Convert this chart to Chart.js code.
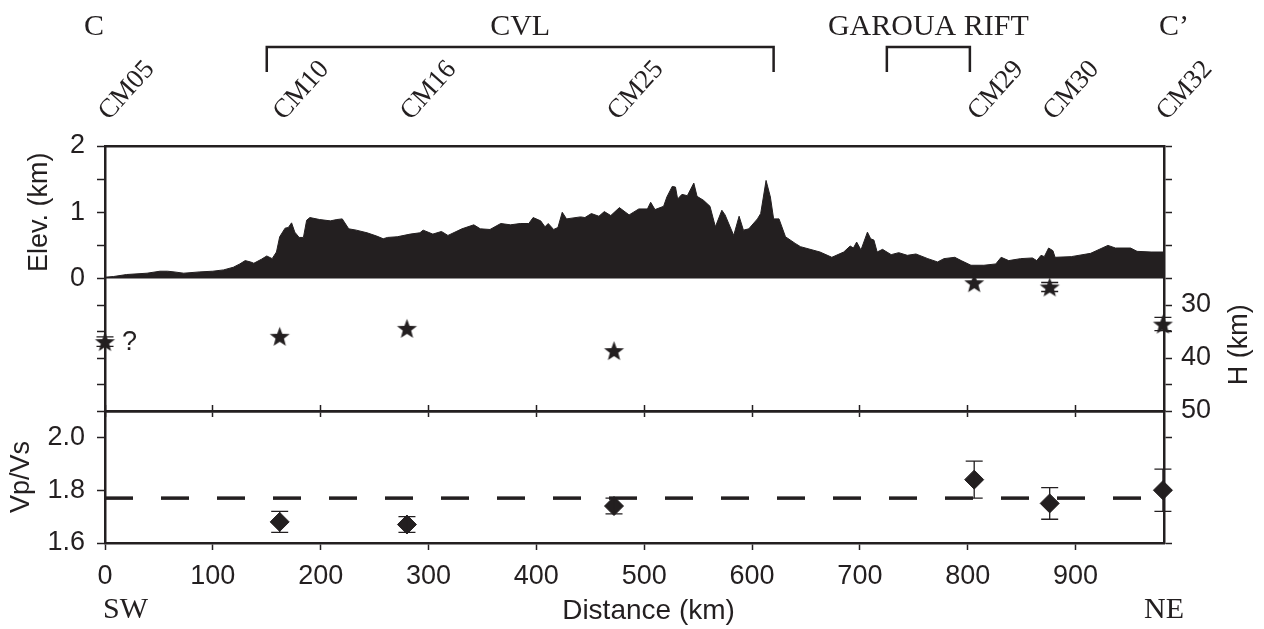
<!DOCTYPE html>
<html>
<head>
<meta charset="utf-8">
<title>Profile C-C'</title>
<script src="https://cdn.jsdelivr.net/npm/chart.js@4.4.1/dist/chart.umd.min.js"></script>
<style>
  html, body { margin: 0; padding: 0; background: #fff; }
  #wrap { position: relative; width: 1264px; height: 629px; }
  #wrap canvas { position: absolute; left: 0; top: 0; }
</style>
</head>
<body>
<div id="wrap">
  <canvas id="vpvsChart" width="1264" height="629"></canvas>
  <canvas id="topChart" width="1264" height="629"></canvas>
</div>
<script>
// ---- data ----
const stationNames = ['CM05', 'CM10', 'CM16', 'CM25', 'CM29', 'CM30', 'CM32'];
const stationKm = [0, 162, 280, 472, 806, 876, 981];
const mohoDepth = [36.9, 35.9, 34.4, 38.6, 25.8, 26.6, 33.6];   // H (km)
const mohoErr = [0.9, 0, 0, 0, 0, 0.85, 1.25];
const vpvs = [null, 1.68, 1.67, 1.74, 1.84, 1.75, 1.80];
const vpvsErr = [null, 0.04, 0.03, 0.03, 0.07, 0.06, 0.08];
const vpvsMean = 1.77;

const regionNames = ['CVL', 'GAROUA RIFT'];
const regionStart = [150, 725];
const regionEnd = [620, 802];

// elevation profile along C-C'
const profileKm = [
  0, 8, 20, 39, 51, 58, 64, 73, 88, 100,
  110, 119, 125, 130, 135, 138, 145, 150, 155, 159,
  162, 167, 170, 173, 176, 180, 184, 187, 190, 199,
  209, 215, 220, 226, 233, 243, 252, 258, 262, 271,
  283, 292, 295, 304, 312, 318, 331, 342, 348, 357,
  367, 376, 385, 393, 397, 404, 408, 411, 416, 420,
  424, 428, 441, 445, 451, 458, 463, 469, 477, 486,
  495, 503, 506, 510, 518, 521, 526, 529, 531, 535,
  540, 546, 549, 555, 561, 566, 572, 575, 583, 588,
  592, 597, 605, 608, 613, 617, 620, 625, 631, 640,
  645, 663, 674, 685, 691, 694, 697, 701, 707, 710,
  713, 716, 721, 729, 736, 744, 752, 763, 772, 778,
  788, 794, 803, 815, 826, 831, 838, 849, 860, 864,
  868, 871, 875, 879, 881, 896, 914, 930, 937, 951,
  957, 970, 982
];
const profileElev = [
  0.02, 0.03, 0.06, 0.08, 0.11, 0.11, 0.10, 0.08, 0.10, 0.11,
  0.13, 0.17, 0.22, 0.27, 0.25, 0.23, 0.29, 0.34, 0.30, 0.40,
  0.63, 0.76, 0.77, 0.84, 0.70, 0.62, 0.62, 0.88, 0.92, 0.89,
  0.87, 0.89, 0.90, 0.75, 0.73, 0.69, 0.64, 0.60, 0.62, 0.63,
  0.67, 0.69, 0.73, 0.67, 0.71, 0.65, 0.75, 0.81, 0.75, 0.74,
  0.83, 0.81, 0.83, 0.83, 0.92, 0.87, 0.78, 0.83, 0.74, 0.77,
  1.00, 0.90, 0.93, 0.92, 0.98, 0.94, 1.01, 0.95, 1.07, 0.96,
  1.05, 1.05, 1.15, 1.04, 1.09, 1.23, 1.39, 1.38, 1.20, 1.27,
  1.25, 1.44, 1.24, 1.18, 1.09, 0.78, 1.03, 0.96, 0.65, 0.94,
  0.73, 0.75, 0.90, 0.98, 1.48, 1.23, 0.90, 0.90, 0.63, 0.53,
  0.48, 0.40, 0.32, 0.40, 0.49, 0.46, 0.55, 0.43, 0.70, 0.60,
  0.58, 0.40, 0.44, 0.36, 0.39, 0.35, 0.37, 0.30, 0.25, 0.30,
  0.32, 0.27, 0.20, 0.20, 0.22, 0.32, 0.27, 0.30, 0.31, 0.27,
  0.35, 0.33, 0.46, 0.42, 0.32, 0.33, 0.38, 0.50, 0.46, 0.46,
  0.41, 0.40, 0.40
];

// axes
const distMax = 982;
const distTicks = [0, 100, 200, 300, 400, 500, 600, 700, 800, 900];
const elevMin = -2, elevMax = 2;
const elevTicks = [0, 0.5, 1, 1.5, 2];
const elevLabels = [0, 1, 2];
const depthMin = 0, depthMax = 50;
const depthTicks = [25, 30, 35, 40, 45, 50];
const depthLabels = [30, 40, 50];
const vpvsMin = 1.6, vpvsMax = 2.1;
const vpvsTicks = [1.6, 1.8, 2.0];

// ---- layout / style ----
const W = 1264, H = 629;
const PLOT_LEFT = 105, PLOT_RIGHT = 1164;
const PLOT_TOP = 146, PANEL_SPLIT = 411, PLOT_BOTTOM = 543;
const INK = '#231f20';
const SANS = '"Liberation Sans", Arial, sans-serif';
const SERIF = '"Liberation Serif", "Times New Roman", serif';

Chart.defaults.font.family = SANS;
Chart.defaults.color = INK;

const tickFont = { family: SANS, size: 27 };
const frame = { display: true, color: INK, width: 2.5 };
function tickGrid(len) {
  return { display: true, drawOnChartArea: false, drawTicks: true, tickLength: len, tickWidth: 1.5, tickColor: INK };
}
function setTicks(values) {
  const sorted = values.slice().sort((a, b) => a - b);
  return scale => { scale.ticks = sorted.map(v => ({ value: v })); };
}
function fixWidth(w) { return scale => { scale.width = w; }; }
function fixHeight(h) { return scale => { scale.height = h; }; }
const near = (a, list) => list.some(b => Math.abs(a - b) < 1e-6);

// elevation <-> depth share the top panel
function depthToElev(d) {
  return elevMax - (d - depthMin) / (depthMax - depthMin) * (elevMax - elevMin);
}
function elevToDepth(e) {
  return depthMin + (elevMax - e) / (elevMax - elevMin) * (depthMax - depthMin);
}

// filled star marker
function makeStar(r) {
  const c = document.createElement('canvas');
  const s = Math.ceil(r * 2 + 2);
  c.width = s; c.height = s;
  const g = c.getContext('2d');
  g.fillStyle = INK;
  g.beginPath();
  for (let i = 0; i < 10; i++) {
    const rad = i % 2 === 0 ? r : r * 0.42;
    const a = -Math.PI / 2 + i * Math.PI / 5;
    const px = s / 2 + rad * Math.cos(a), py = s / 2 + 1 + rad * Math.sin(a);
    if (i === 0) g.moveTo(px, py); else g.lineTo(px, py);
  }
  g.closePath();
  g.fill();
  return c;
}
const starMarker = makeStar(10.5);

// error bars drawn through the chart's scales
const errorBars = {
  id: 'errorBars',
  afterDatasetsDraw(chart, args, opts) {
    if (!opts.errors) return;
    const meta = chart.getDatasetMeta(opts.datasetIndex);
    const ds = chart.data.datasets[opts.datasetIndex];
    const yScale = chart.scales[meta.yAxisID];
    const ctx = chart.ctx;
    ctx.save();
    ctx.strokeStyle = INK;
    ctx.lineWidth = 1.3;
    meta.data.forEach((pt, i) => {
      const err = opts.errors[i];
      const val = ds.data[i] && ds.data[i].y;
      if (!err || val == null) return;
      const y0 = yScale.getPixelForValue(val - err);
      const y1 = yScale.getPixelForValue(val + err);
      const hw = opts.capWidth / 2;
      ctx.beginPath();
      ctx.moveTo(pt.x, y0); ctx.lineTo(pt.x, y1);
      ctx.moveTo(pt.x - hw, y0); ctx.lineTo(pt.x + hw, y0);
      ctx.moveTo(pt.x - hw, y1); ctx.lineTo(pt.x + hw, y1);
      ctx.stroke();
    });
    ctx.restore();
  }
};

function rotatedText(ctx, text, x, y, angle) {
  ctx.save();
  ctx.translate(x, y);
  ctx.rotate(angle);
  ctx.fillText(text, 0, 0);
  ctx.restore();
}

// header, station names, axis titles of the top panel
const topAnnotations = {
  id: 'topAnnotations',
  afterDraw(chart) {
    const { ctx, chartArea, scales } = chart;
    const x = scales.x, yH = scales.yH, yE = scales.yE;
    ctx.save();
    ctx.fillStyle = INK;
    ctx.strokeStyle = INK;
    ctx.lineWidth = 2.5;
    ctx.font = '30px ' + SERIF;
    ctx.textAlign = 'center';
    ctx.textBaseline = 'alphabetic';
    regionNames.forEach((name, i) => {
      const x0 = x.getPixelForValue(regionStart[i]);
      const x1 = x.getPixelForValue(regionEnd[i]);
      ctx.beginPath();
      ctx.moveTo(x0, 72); ctx.lineTo(x0, 47); ctx.lineTo(x1, 47); ctx.lineTo(x1, 72);
      ctx.stroke();
      ctx.fillText(name, (x0 + x1) / 2, 35);
    });
    ctx.fillText('C', chartArea.left - 11, 35);
    ctx.fillText('C\u2019', chartArea.right + 10, 35);

    ctx.font = '27px ' + SERIF;
    ctx.textAlign = 'left';
    stationNames.forEach((name, i) => {
      rotatedText(ctx, name, x.getPixelForValue(stationKm[i]) + 4, 121, -48 * Math.PI / 180);
    });

    // unknown-depth mark next to CM05
    ctx.font = '27px ' + SANS;
    ctx.textAlign = 'left';
    ctx.fillText('?', x.getPixelForValue(stationKm[0]) + 17, yH.getPixelForValue(mohoDepth[0]) + 8);

    ctx.textAlign = 'center';
    ctx.textBaseline = 'middle';
    rotatedText(ctx, 'Elev. (km)', 40, (yE.getPixelForValue(0) + yE.getPixelForValue(elevMax)) / 2, -Math.PI / 2);
    rotatedText(ctx, 'H (km)', 1240, (yH.getPixelForValue(25) + yH.getPixelForValue(depthMax)) / 2, -Math.PI / 2);
    ctx.restore();
  }
};

const bottomAnnotations = {
  id: 'bottomAnnotations',
  afterDraw(chart) {
    const { ctx, chartArea, scales } = chart;
    ctx.save();
    ctx.fillStyle = INK;
    ctx.textAlign = 'center';
    ctx.textBaseline = 'middle';
    ctx.font = '27px ' + SANS;
    rotatedText(ctx, 'Vp/Vs', 22, (chartArea.top + chartArea.bottom) / 2, -Math.PI / 2);
    ctx.textBaseline = 'alphabetic';
    ctx.font = '28px ' + SANS;
    ctx.fillText('Distance (km)', scales.x.getPixelForValue(504), 619);
    ctx.font = '30px ' + SERIF;
    ctx.textAlign = 'left';
    ctx.fillText('SW', chartArea.left - 2, 618);
    ctx.textAlign = 'center';
    ctx.fillText('NE', chartArea.right, 618);
    ctx.restore();
  }
};

const baseOptions = {
  responsive: false,
  animation: false,
  devicePixelRatio: 1,
  events: [],
  layout: { padding: 0 },
  plugins: { legend: { display: false }, tooltip: { enabled: false } }
};

// ---- top panel: elevation + Moho depth ----
const leftTopTicks = elevTicks.concat(depthTicks.slice(1).map(depthToElev));
const rightTopTicks = depthTicks.concat(elevTicks.slice(1).map(elevToDepth));

new Chart(document.getElementById('topChart'), {
  type: 'line',
  data: {
    datasets: [
      {
        type: 'scatter',
        label: 'H',
        data: stationKm.map((km, i) => ({ x: km, y: mohoDepth[i] })),
        xAxisID: 'x', yAxisID: 'yH',
        pointStyle: starMarker, pointRadius: 10,
        clip: false, order: 0
      },
      {
        label: 'Elevation',
        data: profileKm.map((km, i) => ({ x: km, y: profileElev[i] })),
        xAxisID: 'x', yAxisID: 'yE',
        borderColor: INK, backgroundColor: INK, borderWidth: 1,
        pointRadius: 0, tension: 0, fill: 'origin', order: 1
      }
    ]
  },
  options: Object.assign({}, baseOptions, {
    plugins: Object.assign({}, baseOptions.plugins, {
      errorBars: { datasetIndex: 0, errors: mohoErr, capWidth: 17 }
    }),
    scales: {
      x: {
        type: 'linear', position: 'bottom', min: 0, max: distMax,
        afterBuildTicks: setTicks(distTicks),
        ticks: { display: false, autoSkip: false },
        grid: tickGrid(6), border: frame,
        afterFit: fixHeight(H - PANEL_SPLIT)
      },
      xTop: {
        type: 'linear', position: 'top', min: 0, max: distMax,
        ticks: { display: false },
        grid: { display: false }, border: frame,
        afterFit: fixHeight(PLOT_TOP)
      },
      yE: {
        type: 'linear', position: 'left', min: elevMin, max: elevMax,
        afterBuildTicks: setTicks(leftTopTicks),
        ticks: {
          font: tickFont, color: INK, padding: 12, autoSkip: false,
          callback: v => near(v, elevLabels) ? String(Math.round(v)) : ''
        },
        grid: tickGrid(8), border: frame,
        afterFit: fixWidth(PLOT_LEFT)
      },
      yH: {
        type: 'linear', position: 'right', min: depthMin, max: depthMax, reverse: true,
        afterBuildTicks: setTicks(rightTopTicks),
        ticks: {
          font: tickFont, color: INK, padding: 9, autoSkip: false,
          callback: v => near(v, depthLabels) ? String(Math.round(v)) : ''
        },
        grid: tickGrid(8), border: frame,
        afterFit: fixWidth(W - PLOT_RIGHT)
      }
    }
  }),
  plugins: [errorBars, topAnnotations]
});

// ---- bottom panel: Vp/Vs ----
new Chart(document.getElementById('vpvsChart'), {
  type: 'line',
  data: {
    datasets: [
      {
        type: 'scatter',
        label: 'Vp/Vs',
        data: stationKm.map((km, i) => ({ x: km, y: vpvs[i] })).filter(p => p.y != null),
        xAxisID: 'x', yAxisID: 'yV',
        pointStyle: 'rectRot', pointRadius: 9.5,
        backgroundColor: INK, borderColor: INK, borderWidth: 1,
        clip: false, order: 0
      },
      {
        label: 'mean',
        data: [{ x: 0, y: vpvsMean }, { x: distMax, y: vpvsMean }],
        xAxisID: 'x', yAxisID: 'yV',
        borderColor: INK, borderWidth: 3.5, borderDash: [28, 28],
        pointRadius: 0, fill: false, order: 1
      }
    ]
  },
  options: Object.assign({}, baseOptions, {
    plugins: Object.assign({}, baseOptions.plugins, {
      errorBars: { datasetIndex: 0, errors: vpvsErr.filter(e => e != null), capWidth: 17 }
    }),
    scales: {
      x: {
        type: 'linear', position: 'bottom', min: 0, max: distMax,
        afterBuildTicks: setTicks(distTicks),
        ticks: { font: tickFont, color: INK, padding: 10, maxRotation: 0, autoSkip: false },
        grid: tickGrid(7), border: frame,
        afterFit: fixHeight(H - PLOT_BOTTOM)
      },
      xTop: {
        type: 'linear', position: 'top', min: 0, max: distMax,
        afterBuildTicks: setTicks(distTicks),
        ticks: { display: false, autoSkip: false },
        grid: tickGrid(6), border: frame,
        afterFit: fixHeight(PANEL_SPLIT)
      },
      yV: {
        type: 'linear', position: 'left', min: vpvsMin, max: vpvsMax,
        afterBuildTicks: setTicks(vpvsTicks),
        ticks: { font: tickFont, color: INK, padding: 12, autoSkip: false, callback: v => v.toFixed(1) },
        grid: tickGrid(8), border: frame,
        afterFit: fixWidth(PLOT_LEFT)
      },
      yV2: {
        type: 'linear', position: 'right', min: vpvsMin, max: vpvsMax,
        afterBuildTicks: setTicks(vpvsTicks),
        ticks: { display: false, autoSkip: false },
        grid: tickGrid(8), border: frame,
        afterFit: fixWidth(W - PLOT_RIGHT)
      }
    }
  }),
  plugins: [errorBars, bottomAnnotations]
});
</script>
</body>
</html>
